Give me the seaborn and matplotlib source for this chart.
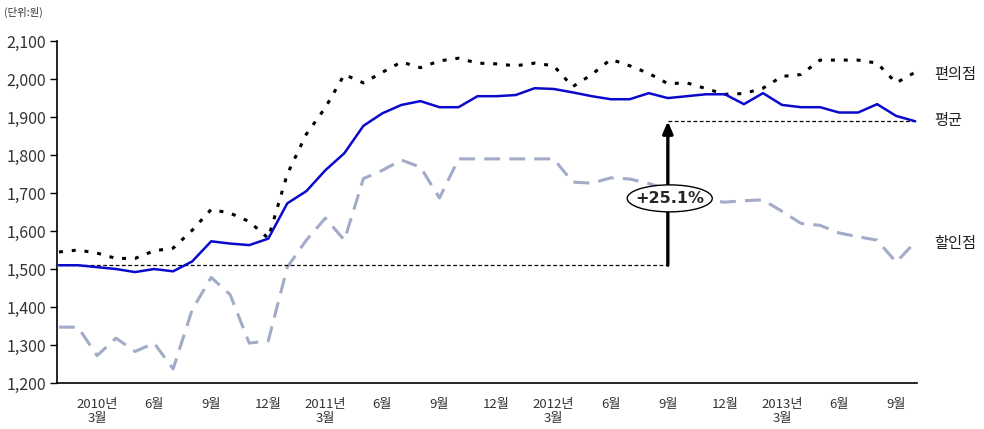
import numpy as np
import pandas as pd
import matplotlib
matplotlib.use("Agg")
import matplotlib.pyplot as plt
from matplotlib.patches import Ellipse
import seaborn as sns

# Monthly prices, Jan 2010 - Oct 2013 (unit: won)
months = pd.period_range("2010-01", "2013-10", freq="M").astype(str).tolist()

average = [1510, 1510, 1505, 1500, 1492, 1500, 1494, 1520, 1573, 1567, 1563, 1580,
           1673, 1705, 1760, 1805, 1877, 1910, 1932, 1942, 1926, 1926, 1955, 1955,
           1958, 1976, 1974, 1965, 1955, 1947, 1947, 1963, 1950, 1955, 1960, 1960,
           1934, 1963, 1932, 1926, 1926, 1912, 1912, 1934, 1903, 1889]

convenience = [1545, 1550, 1542, 1528, 1528, 1548, 1555, 1602, 1657, 1647, 1625, 1581,
               1750, 1855, 1925, 2012, 1990, 2018, 2045, 2030, 2048, 2055, 2042, 2040,
               2035, 2042, 2035, 1980, 2012, 2052, 2035, 2015, 1988, 1990, 1975, 1960,
               1962, 1976, 2007, 2012, 2050, 2050, 2050, 2042, 1990, 2018]

discount = [1347, 1347, 1272, 1318, 1283, 1305, 1237, 1393, 1478, 1432, 1305, 1311,
            1505, 1576, 1634, 1576, 1738, 1760, 1787, 1768, 1687, 1790, 1790, 1790,
            1790, 1790, 1790, 1729, 1726, 1740, 1737, 1725, 1710, 1695, 1681, 1676,
            1680, 1682, 1652, 1620, 1615, 1595, 1585, 1576, 1518, 1571]

series_names = ["편의점", "평균", "할인점"]
tick_pos = list(range(2, 46, 3))
tick_labels = ["2010년\n3월", "6월", "9월", "12월",
               "2011년\n3월", "6월", "9월", "12월",
               "2012년\n3월", "6월", "9월", "12월",
               "2013년\n3월", "6월", "9월"]
y_ticks = list(range(1200, 2101, 100))

sns.set_style("white")
plt.rcParams["font.family"] = ["Noto Sans CJK KR", "DejaVu Sans"]

df = pd.DataFrame({"idx": np.arange(len(months)), "month": months,
                   "average": average, "convenience": convenience,
                   "discount": discount})

fig = plt.figure(figsize=(9.84, 4.29), dpi=100)
ax = fig.add_axes([0.058, 0.1072, 0.874, 0.797])

sns.lineplot(data=df, x="idx", y="discount", ax=ax, color="#A2ABC7",
             linewidth=2.2, linestyle=(0, (5.2, 3.0)), zorder=2)
sns.lineplot(data=df, x="idx", y="convenience", ax=ax, color="black",
             linewidth=2.2, linestyle=(0, (1.3, 2.9)), zorder=3)
sns.lineplot(data=df, x="idx", y="average", ax=ax, color="#0A0ACC",
             linewidth=1.8, zorder=4)

# growth of the average price
base, final = average[0], average[-1]
pct = (final / base - 1) * 100
mark_x = 32
ax.plot([0, mark_x], [base, base], color="black", lw=0.9,
        linestyle=(0, (3, 2)), zorder=3)
ax.plot([mark_x, len(months) - 1], [final, final], color="black", lw=0.9,
        linestyle=(0, (3, 2)), zorder=3)
ax.annotate("", xy=(mark_x, final), xytext=(mark_x, base),
            arrowprops=dict(arrowstyle="-|>,head_length=0.7,head_width=0.3",
                            color="black", lw=2.4, shrinkA=0, shrinkB=0),
            zorder=5)
ell = Ellipse((mark_x + 0.1, 1686), width=4.47, height=71, facecolor="white",
              edgecolor="black", lw=1.0, zorder=6)
ax.add_patch(ell)
ax.text(mark_x + 0.1, 1686, f"+{pct:.1f}%", ha="center", va="center",
        fontsize=11.5, fontweight="bold", family=["DejaVu Sans"], zorder=7)

# series labels at the right end
label_y = {"편의점": 2011, "평균": 1892, "할인점": 1568}
for name in series_names:
    ax.text(46.0, label_y[name], name, ha="left", va="center",
            fontsize=11, color="#222222", clip_on=False)

fig.text(0.004, 0.972, "(단위:원)", fontsize=7.5, color="#333333",
         ha="left", va="center")

ax.set_xlim(-0.1, 45.1)
ax.set_ylim(1200, 2100)
ax.set_xticks(tick_pos)
ax.set_xticklabels(tick_labels, fontsize=9.5, color="#333333", linespacing=1.05)
ax.set_yticks(y_ticks)
ax.set_yticklabels([f"{v:,}" for v in y_ticks], fontsize=11.5, color="#333333")
ax.tick_params(axis="y", which="both", left=True, length=5, width=1,
               color="black", direction="out", pad=3)
ax.tick_params(axis="x", length=0, pad=11)
ax.set_xlabel("")
ax.set_ylabel("")
for s in ["top", "right"]:
    ax.spines[s].set_visible(False)
for s in ["left", "bottom"]:
    ax.spines[s].set_color("black")
    ax.spines[s].set_linewidth(1.2)

fig.savefig("out.png", dpi=100)
